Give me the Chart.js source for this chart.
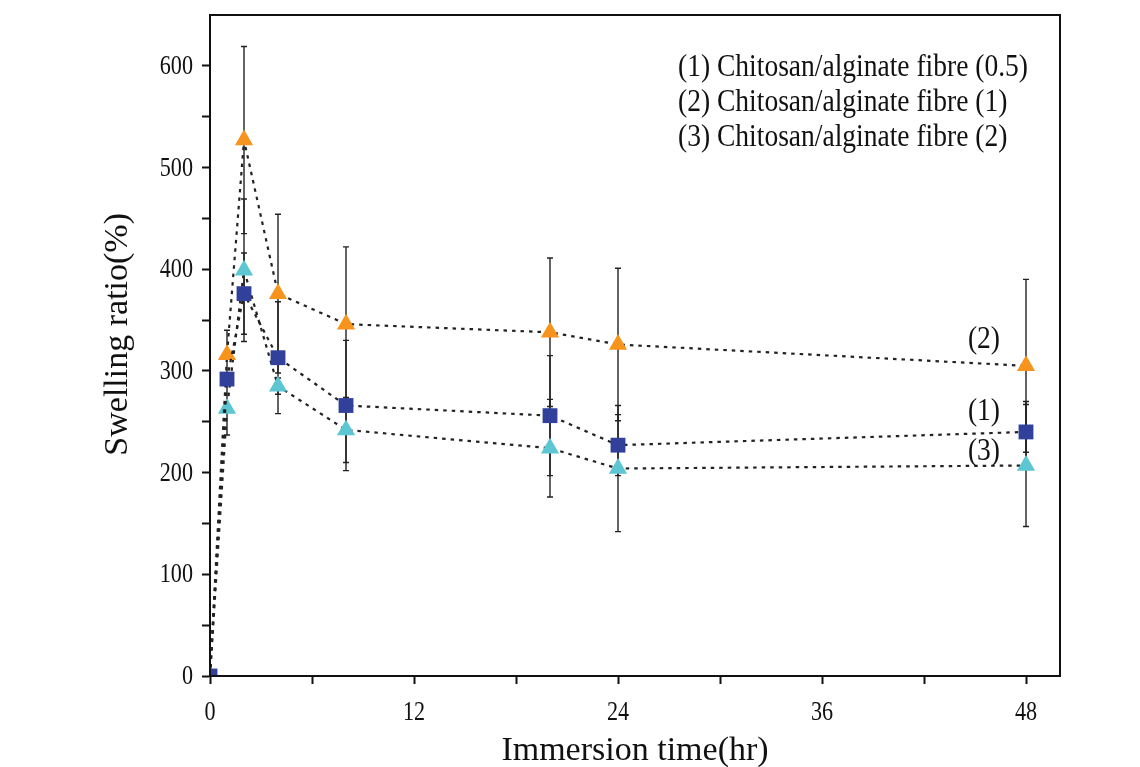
<!DOCTYPE html>
<html>
<head>
<meta charset="utf-8">
<script src="https://cdn.jsdelivr.net/npm/chart.js@4"></script>
<style>
  html, body { margin: 0; padding: 0; background: #fff; }
  #wrap { width: 1140px; height: 767px; }
</style>
</head>
<body>
<div id="wrap"><canvas id="myChart" width="1140" height="767"></canvas></div>
<script>
// datos
const horas = [0, 1, 2, 4, 8, 20, 24, 48];
const nombres = [
    '(1) Chitosan/alginate fibre (0.5)',
    '(2) Chitosan/alginate fibre (1)',
    '(3) Chitosan/alginate fibre (2)'
];
const etiquetasCortas = ['(1)', '(2)', '(3)'];
const fibra05 = [0, 292, 376, 313, 266, 256, 227, 240];
const fibra1 = [0, 316, 527, 376, 346, 338, 326, 305];
const fibra2 = [0, 263, 399, 285, 242, 224, 204, 207];
const error05 = [0, 5, 40, 55, 64, 59, 30, 30];
const error1 = [0, 24, 92, 78, 76, 73, 75, 85];
const error2 = [0, 26, 70, 8, 32, 48, 62, 60];
const ticksX = [0, 12, 24, 36, 48];
const ticksY = [0, 100, 200, 300, 400, 500, 600];
const tituloY = 'Swelling ratio(%)';

const serif = "'Liberation Serif', 'Times New Roman', serif";

function puntos(valores) {
    return horas.map((h, i) => ({ x: h, y: valores[i] }));
}

// texto un poco estrecho, como en la figura original
function textoEstrecho(ctx, texto, x, y, align, escala) {
    ctx.save();
    ctx.translate(x, y);
    ctx.scale(escala, 1);
    ctx.textAlign = align;
    ctx.fillText(texto, 0, 0);
    ctx.restore();
}

const series = [
    { label: nombres[0], data: fibra05, err: error05, color: '#31419b', style: 'rect', radius: 10.5 },
    { label: nombres[1], data: fibra1, err: error1, color: '#f7941d', style: 'triangle', radius: 10.5 },
    { label: nombres[2], data: fibra2, err: error2, color: '#5cc6d2', style: 'triangle', radius: 10.5 }
];

// barras de error + marco + textos
const extras = {
    id: 'extras',
    beforeDatasetsDraw(chart) {
        const { ctx, scales: { x, y } } = chart;
        ctx.save();
        ctx.strokeStyle = '#222';
        ctx.lineWidth = 1.4;
        series.forEach(s => {
            horas.forEach((h, i) => {
                const e = s.err[i];
                if (!e) return;
                const px = x.getPixelForValue(h);
                const top = y.getPixelForValue(s.data[i] + e);
                const bot = y.getPixelForValue(s.data[i] - e);
                ctx.beginPath();
                ctx.moveTo(px, top); ctx.lineTo(px, bot);
                ctx.moveTo(px - 3, top); ctx.lineTo(px + 3, top);
                ctx.moveTo(px - 3, bot); ctx.lineTo(px + 3, bot);
                ctx.stroke();
            });
        });
        ctx.restore();
    },
    afterDraw(chart) {
        const { ctx, chartArea: a, scales: { x, y } } = chart;
        ctx.save();
        ctx.strokeStyle = '#111';
        ctx.lineWidth = 2;
        ctx.strokeRect(a.left, a.top, a.right - a.left, a.bottom - a.top);

        ctx.fillStyle = '#111';
        ctx.textBaseline = 'middle';

        // etiquetas de los ejes
        ctx.font = '27px ' + serif;
        ticksY.forEach(v => textoEstrecho(ctx, String(v), a.left - 17, y.getPixelForValue(v) + 1, 'right', 0.82));
        ticksX.forEach(v => textoEstrecho(ctx, String(v), x.getPixelForValue(v), a.bottom + 37, 'center', 0.82));

        // titulo del eje Y
        ctx.save();
        ctx.font = '34px ' + serif;
        ctx.translate(118, y.getPixelForValue(336));
        ctx.rotate(-Math.PI / 2);
        ctx.textAlign = 'center';
        ctx.fillText(tituloY, 0, 0);
        ctx.restore();

        // leyenda
        ctx.font = '32px ' + serif;
        nombres.forEach((n, i) => textoEstrecho(ctx, n, 678, 68 + i * 35, 'left', 0.86));

        // etiquetas al final de cada curva
        const ult = horas.length - 1;
        const xr = x.getPixelForValue(horas[ult]) - 26;
        textoEstrecho(ctx, etiquetasCortas[1], xr, y.getPixelForValue(fibra1[ult]) - 26, 'right', 0.86);
        textoEstrecho(ctx, etiquetasCortas[0], xr, y.getPixelForValue(fibra05[ult]) - 20, 'right', 0.86);
        textoEstrecho(ctx, etiquetasCortas[2], xr, y.getPixelForValue(fibra2[ult]) - 14, 'right', 0.86);
        ctx.restore();
    }
};

const ctx = document.getElementById('myChart').getContext('2d');
const myChart = new Chart(ctx, {
    type: 'scatter',
    data: {
        datasets: series.map(s => ({
            label: s.label,
            data: puntos(s.data),
            showLine: true,
            borderColor: '#222',
            borderWidth: 2.2,
            borderDash: [3.5, 5],
            pointStyle: s.style,
            pointRadius: s.radius,
            pointHoverRadius: s.radius,
            pointBackgroundColor: s.color,
            pointBorderColor: s.color,
            pointBorderWidth: 0,
            tension: 0
        }))
    },
    options: {
        responsive: false,
        animation: false,
        layout: { padding: { top: 15, right: 80, left: 0, bottom: 0 } },
        plugins: {
            legend: { display: false },
            tooltip: { enabled: false }
        },
        scales: {
            x: {
                type: 'linear',
                min: 0,
                max: 50,
                afterFit: (s) => { s.height = 91; },
                border: { display: true, color: '#111', width: 2 },
                grid: {
                    drawOnChartArea: false,
                    tickLength: 8,
                    tickWidth: 2,
                    tickColor: '#111'
                },
                ticks: {
                    stepSize: 6,
                    includeBounds: false,
                    maxRotation: 0,
                    autoSkip: false,
                    font: { size: 1 },
                    callback: () => ''
                },
                title: {
                    display: true,
                    text: 'Immersion time(hr)',
                    color: '#111',
                    font: { family: serif, size: 34 },
                    padding: { top: 0, bottom: -4 }
                }
            },
            y: {
                min: 0,
                max: 650,
                afterFit: (s) => { s.width = 210; },
                border: { display: true, color: '#111', width: 2 },
                grid: {
                    drawOnChartArea: false,
                    tickLength: 8,
                    tickWidth: 2,
                    tickColor: (c) => (c.tick && c.tick.value === 650) ? 'rgba(0,0,0,0)' : '#111'
                },
                ticks: {
                    stepSize: 50,
                    autoSkip: false,
                    font: { size: 1 },
                    callback: () => ''
                }
            }
        }
    },
    plugins: [extras]
});
</script>
</body>
</html>
